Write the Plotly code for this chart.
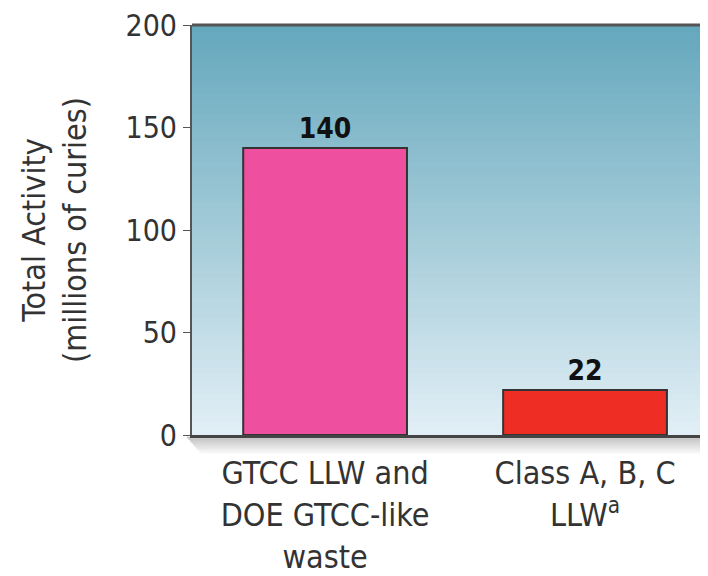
import plotly.graph_objects as go

categories = ["GTCC LLW and<br>DOE GTCC-like<br>waste", "Class A, B, C<br>LLW<sup>a</sup>"]
values = [140, 22]
value_labels = ["140", "22"]
bar_colors = ["#EE4F9E", "#EE2E24"]
y_ticks = [0, 50, 100, 150, 200]

FONT = "DejaVu Sans Condensed, Liberation Sans Narrow, Arial Narrow, Liberation Sans, sans-serif"

fig = go.Figure()
fig.add_trace(go.Bar(
    x=categories, y=values, width=0.63,
    marker=dict(color=bar_colors, line=dict(color="#333333", width=2)),
    text=value_labels, textposition="outside", cliponaxis=False,
    textfont=dict(family=FONT, size=28, color="#111111", weight="bold"),
))

# vertical gradient background stripes
top = (100, 167, 189)
mid = (163, 203, 216)
bot = (226, 239, 246)
n = 60
shapes = []
for i in range(n):
    t = (i + 0.5) / n  # 0 bottom -> 1 top
    if t < 0.5:
        f = t / 0.5
        c = tuple(round(bot[k] + (mid[k] - bot[k]) * f) for k in range(3))
    else:
        f = (t - 0.5) / 0.5
        c = tuple(round(mid[k] + (top[k] - mid[k]) * f) for k in range(3))
    shapes.append(dict(type="rect", xref="x domain", yref="y domain",
                       x0=0, x1=1, y0=i / n, y1=(i + 1) / n + 0.002,
                       fillcolor="rgb(%d,%d,%d)" % c, line=dict(width=0), layer="below"))
# shadow below the bottom axis
for j in range(10):
    a = 0.32 * (1 - j / 10)
    shapes.append(dict(type="rect", xref="x domain", yref="paper",
                       x0=-0.01 + 0.03 * j / 10, x1=1, y0=-(j + 1) * 0.0042 - 0.004, y1=-j * 0.0042 - 0.004,
                       fillcolor="rgba(60,60,60,%.3f)" % a, line=dict(width=0), layer="below"))
# top border line
shapes.append(dict(type="line", xref="x domain", yref="y domain", x0=0, x1=1, y0=1, y1=1,
                   line=dict(color="#555555", width=3)))

fig.update_layout(
    width=700, height=568,
    margin=dict(l=184, r=0, t=17, b=141),
    paper_bgcolor="white", plot_bgcolor="rgba(0,0,0,0)",
    showlegend=False,
    shapes=shapes,
    font=dict(family=FONT, color="#333333"),
    xaxis=dict(range=[-0.512, 1.473], showgrid=False, zeroline=False,
               showline=True, linecolor="#444444", linewidth=3,
               ticks="", ticklabelstandoff=8,
               tickfont=dict(family=FONT, size=32, color="#333333")),
    yaxis=dict(range=[0, 200], tickvals=y_ticks, showgrid=False, zeroline=False,
               showline=True, linecolor="#555555", linewidth=2,
               ticks="outside", ticklen=7, tickcolor="#555555", tickwidth=1,
               ticklabeloverflow="allow",
               tickfont=dict(family=FONT, size=30, color="#333333"),
               title=dict(text="Total Activity<br>(millions of curies)",
                          font=dict(family=FONT, size=32, color="#333333"), standoff=29)),
)

fig.write_html("out.html")
